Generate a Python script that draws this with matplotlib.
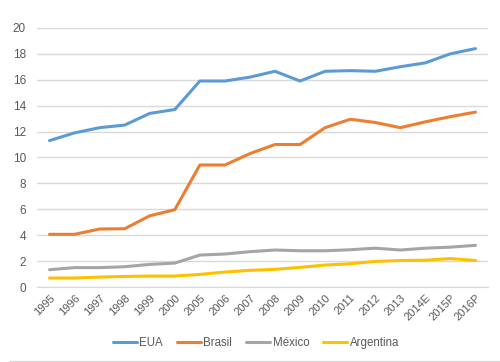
import matplotlib
matplotlib.use("Agg")
import matplotlib.pyplot as plt
from matplotlib.lines import Line2D

years = ["1995", "1996", "1997", "1998", "1999", "2000", "2005", "2006", "2007",
         "2008", "2009", "2010", "2011", "2012", "2013", "2014E", "2015P", "2016P"]
eua = [11.3, 11.9, 12.3, 12.5, 13.4, 13.7, 15.9, 15.9, 16.2, 16.65, 15.9, 16.65,
       16.7, 16.65, 17.0, 17.3, 18.0, 18.4]
brasil = [4.07, 4.07, 4.48, 4.5, 5.5, 5.97, 9.42, 9.42, 10.3, 11.0, 11.0, 12.3,
          12.95, 12.7, 12.3, 12.75, 13.15, 13.5]
mexico = [1.34, 1.5, 1.5, 1.57, 1.75, 1.85, 2.47, 2.55, 2.73, 2.86, 2.8, 2.8,
          2.88, 3.0, 2.86, 3.0, 3.08, 3.22]
argentina = [0.7, 0.7, 0.77, 0.82, 0.85, 0.85, 0.98, 1.16, 1.29, 1.37, 1.52, 1.7,
             1.8, 1.98, 2.05, 2.07, 2.2, 2.05]

series = [("EUA", eua, "#5B9BD5"), ("Brasil", brasil, "#ED7D31"),
          ("México", mexico, "#A5A5A5"), ("Argentina", argentina, "#FFC000")]

plt.rcParams['font.family'] = ['Liberation Sans', 'DejaVu Sans']
fig = plt.figure(figsize=(5.0, 3.62), dpi=100)
ax = fig.add_axes([0.074, 0.207, 0.902, 0.716])

x = list(range(len(years)))
for name, vals, col in series:
    ax.plot(x, vals, color=col, lw=2.2, label=name, solid_capstyle='round', solid_joinstyle='round')

ax.set_xlim(-0.5, len(years) - 0.5)
ax.set_ylim(0, 20)
ax.set_yticks(range(0, 21, 2))
ax.yaxis.grid(True, color="#D9D9D9", lw=1)
ax.set_axisbelow(True)
for s in ax.spines.values():
    s.set_visible(False)
ax.spines['bottom'].set_visible(True)
ax.spines['bottom'].set_color("#D9D9D9")
ax.tick_params(axis='both', length=0, colors="#595959", labelsize=8.5)
ax.tick_params(axis='y', pad=8)
ax.set_xticks(x)
ax.set_xticklabels(years, rotation=45, ha='right', rotation_mode='anchor', fontsize=8)
ax.tick_params(axis='x', pad=4)

leg = fig.legend(loc='center', bbox_to_anchor=(0.512, 0.052), ncol=4, frameon=False,
                 fontsize=8.3, handlelength=2.1, handletextpad=0.2, columnspacing=1.2,
                 labelcolor="#595959")

fig.add_artist(Line2D([0.02, 1.0], [0.003, 0.003], transform=fig.transFigure,
                      color="#D9D9D9", lw=1))

fig.savefig("out.png", dpi=100, facecolor="white")
